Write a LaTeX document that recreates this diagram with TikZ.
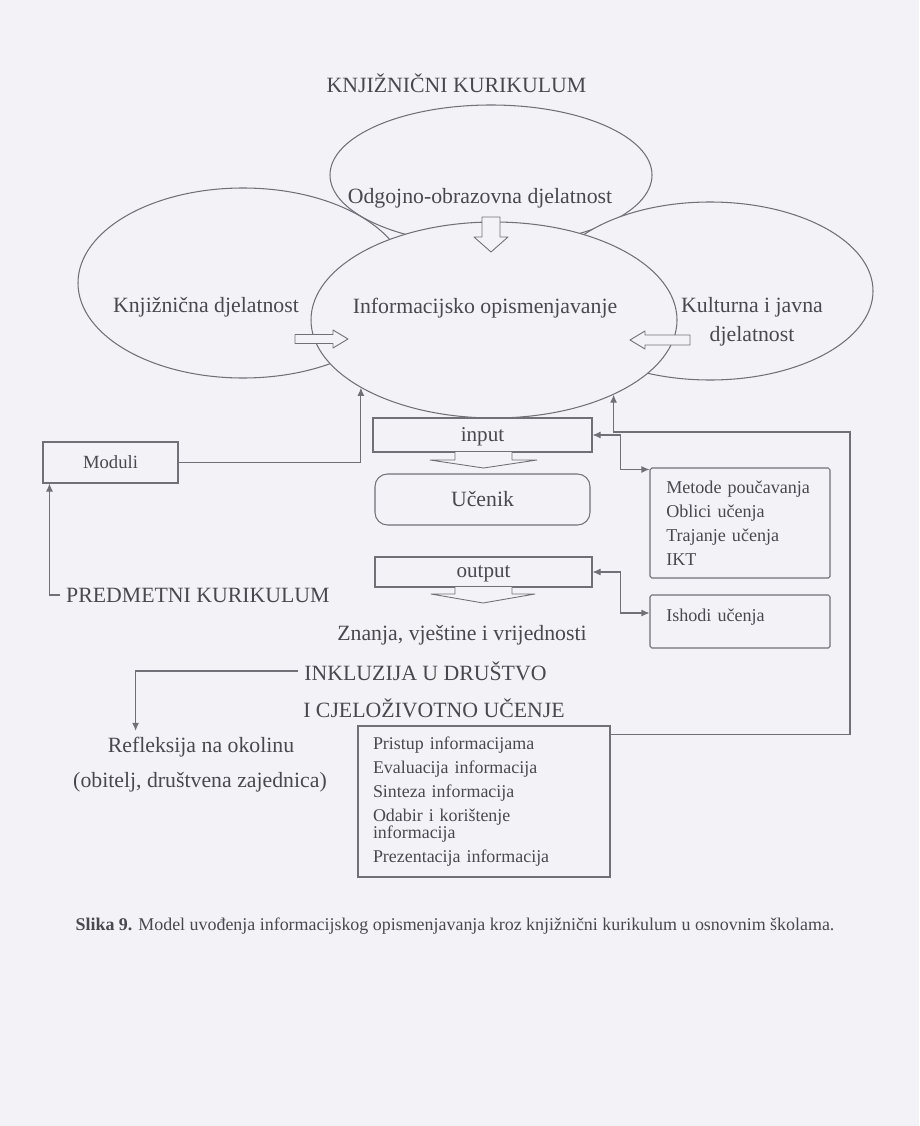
\documentclass[tikz,border=0pt]{standalone}
\usepackage{fontspec}
\setmainfont{Liberation Serif}
\usepackage{xcolor}
\usepackage{tikz}
\usetikzlibrary{arrows.meta,shapes.geometric}
\definecolor{pagebg}{RGB}{243,243,247}
\definecolor{ink}{RGB}{72,72,78}
\definecolor{rulegray}{RGB}{112,112,118}
\newcommand{\bigtxt}{\fontsize{12.4}{15}\selectfont}
\newcommand{\smalltxt}{\fontsize{10.3}{13.7}\selectfont}
\newcommand{\listtxt}{\fontsize{10.2}{9.8}\selectfont}
\newcommand{\captxt}{\fontsize{10.2}{12}\selectfont}

\begin{document}
\begin{tikzpicture}[>={Latex[length=1.6mm,width=1.4mm]},
  every node/.style={text=ink},
  txt/.style={font=\bigtxt},
  oval/.style={ellipse, draw=rulegray, fill=pagebg, line width=0.6pt, inner sep=0pt},
  plainbox/.style={draw=rulegray, fill=pagebg, line width=0.6pt, inner sep=0pt},
  link/.style={draw=rulegray, line width=0.6pt},
  blockarr/.style={draw=rulegray, fill=pagebg, line width=0.5pt, line join=round}]
\useasboundingbox (0,0) rectangle (18.38,-22.52);
\fill[pagebg] (0,0) rectangle (18.38,-22.52);

\node[txt] (title) at (9.13,-1.66) {KNJIŽNIČNI KURIKULUM};
\node[oval, minimum width=6.44cm, minimum height=2.8cm] (odg) at (9.82,-3.5) {};
\node[oval, minimum width=6.6cm, minimum height=3.8cm] (knj) at (4.86,-5.66) {};
\node[oval, minimum width=6.52cm, minimum height=3.56cm] (kul) at (14.2,-5.82) {};
\node[oval, minimum width=7.32cm, minimum height=3.92cm] (inf) at (9.88,-6.4) {};
\node[txt] (odgt) at (9.6,-3.96) {Odgojno-obrazovna djelatnost};
\node[txt] (knjt) at (4.12,-6.14) {Knjižnična djelatnost};
\node[txt] (inft) at (9.7,-6.16) {Informacijsko opismenjavanje};
\node[txt, align=center] (kult) at (15.04,-6.44) {Kulturna i javna\\[1.5pt]djelatnost};
\filldraw[blockarr] (9.64,-4.34) -- (10.0,-4.34) -- (10.0,-4.74) -- (10.16,-4.74) -- (9.82,-5.04) -- (9.48,-4.74) -- (9.64,-4.74) -- cycle;
\filldraw[blockarr] (5.9,-6.69) -- (6.66,-6.69) -- (6.66,-6.6) -- (6.96,-6.78) -- (6.66,-6.96) -- (6.66,-6.87) -- (5.9,-6.87) -- cycle;
\filldraw[blockarr] (13.8,-6.7) -- (12.9,-6.7) -- (12.9,-6.62) -- (12.6,-6.8) -- (12.9,-6.98) -- (12.9,-6.9) -- (13.8,-6.9) -- cycle;

\node[plainbox, minimum width=2.7cm, minimum height=0.82cm, font=\fontsize{10.6}{12}\selectfont] (mod) at (2.21,-9.25) {Moduli};
\node[plainbox, minimum width=4.38cm, minimum height=0.68cm, text depth=0pt, font=\fontsize{12}{14}\selectfont] (inp) at (9.65,-8.7) {input};
\node[plainbox, rounded corners=0.25cm, minimum width=4.3cm, minimum height=1.02cm, font=\bigtxt] (uce) at (9.65,-9.99) {Učenik};
\node[plainbox, minimum width=4.34cm, minimum height=0.6cm, text depth=0pt, font=\fontsize{12}{14}\selectfont] (out) at (9.67,-11.44) {output};
\node[plainbox, rounded corners=1pt, minimum width=3.6cm, minimum height=2.2cm, text width=2.95cm, align=left, font=\smalltxt] (met) at (14.8,-10.46) {Metode poučavanja\\Oblici učenja\\Trajanje učenja\\IKT};
\node[plainbox, rounded corners=1pt, minimum width=3.6cm, text width=2.95cm, text height=0.52cm, text depth=0.54cm, align=left, font=\smalltxt] (ish) at (14.8,-12.43) {Ishodi učenja};
\node[plainbox, minimum width=5.04cm, minimum height=3.02cm, text width=4.44cm, align=left, font=\listtxt] (pri) at (9.68,-16.03) {Pristup informacijama\\[3.8pt]Evaluacija informacija\\[3.8pt]Sinteza informacija\\[3.8pt]Odabir i korištenje\\informacija\\[3.8pt]Prezentacija informacija};
\filldraw[blockarr] (9.1,-9.04) -- (9.1,-9.2) -- (8.6,-9.2) -- (9.67,-9.36) -- (10.74,-9.2) -- (10.24,-9.2) -- (10.24,-9.04);
\filldraw[blockarr] (9.1,-11.74) -- (9.1,-11.88) -- (8.62,-11.88) -- (9.66,-12.06) -- (10.7,-11.88) -- (10.24,-11.88) -- (10.24,-11.74);

\node[txt, anchor=west] (pk) at (1.2,-11.9) {PREDMETNI KURIKULUM};
\node[txt] (znv) at (9.24,-12.7) {Znanja, vještine i vrijednosti};
\node[txt] (inkl) at (8.51,-13.42) {INKLUZIJA U DRUŠTVO};
\node[txt] (cjel) at (8.68,-14.16) {I CJELOŽIVOTNO UČENJE};
\node[txt] (refl) at (4.02,-14.94) {Refleksija na okolinu};
\node[txt] (obit) at (4.0,-15.64) {(obitelj, društvena zajednica)};
\node[font=\captxt] (cap) at (9.1,-18.52) {\textbf{Slika 9.} Model uvođenja informacijskog opismenjavanja kroz knjižnični kurikulum u osnovnim školama.};

\coordinate (ret) at (17.0,-8.64);
\draw[link, ->] (mod.east) -| (inf.207);
\draw[link, ->] (pk.west) -| ([xshift=0.14cm]mod.south west);
\draw[link, <->] (inp.east) -- ++(0.56,0) |- ([yshift=-0.04cm]met.north west);
\draw[link, <->] (out.east) -- ++(0.56,0) |- ([yshift=0.17cm]ish.west);
\draw[link, ->] ([yshift=-0.18cm]pri.north east) -| (ret) -| (inf.328);
\draw[link, ->] (inkl.west) -| ([xshift=0.68cm]refl.north west);
\end{tikzpicture}
\end{document}
